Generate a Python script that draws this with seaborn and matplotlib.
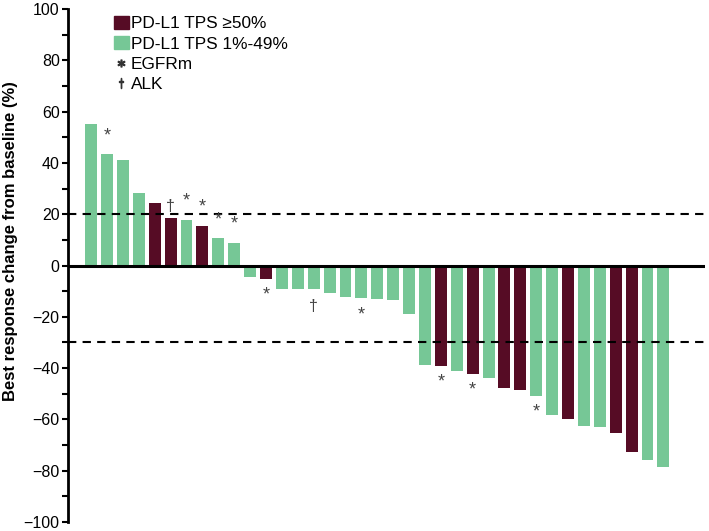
"""
Waterfall plot: best response change from baseline by PD-L1 TPS group.
"""
import numpy as np, pandas as pd
import matplotlib
matplotlib.use("Agg")
import matplotlib.pyplot as plt
from matplotlib.patches import Patch
from matplotlib.lines import Line2D
import seaborn as sns

# ---------- data ----------
change = [55.0, 43.3, 41.0, 28.1, 24.4, 18.5, 17.7, 15.4, 10.6, 8.9,
          -4.4, -5.3, -9.0, -9.0, -9.0, -10.6, -12.4, -12.8, -13.2, -13.6,
          -18.9, -38.8, -39.2, -41.0, -42.4, -43.9, -47.8, -48.5, -50.7, -58.3,
          -59.8, -62.4, -62.8, -65.4, -72.7, -75.7, -78.7]
# H = TPS >=50%, L = TPS 1%-49%
tps = ["L", "L", "L", "L", "H", "H", "L", "H", "L", "L",
       "L", "H", "L", "L", "L", "L", "L", "L", "L", "L",
       "L", "L", "H", "L", "H", "L", "H", "H", "L", "L",
       "H", "L", "L", "H", "H", "L", "L"]
# mutation markers: "*" = EGFRm, "†" = ALK
mutation = ["", "*", "", "", "", "†", "*", "*", "*", "*",
            "", "*", "", "", "†", "", "", "*", "", "",
            "", "", "*", "", "*", "", "", "", "*", "",
            "", "", "", "", "", "", ""]
thresholds = [20, -30]
group_labels = {"H": "PD-L1 TPS \u226550%", "L": "PD-L1 TPS 1%-49%"}
colors = {"H": "#560c25", "L": "#76c796"}

df = pd.DataFrame({"patient": np.arange(len(change)), "change": change,
                   "tps": tps, "mut": mutation})

plt.rcParams["font.family"] = ["Liberation Sans", "DejaVu Sans"]

fig = plt.figure(figsize=(7.09, 5.31), dpi=100)
ax = fig.add_axes([0.096, 0.017, 0.898, 0.966])

sns.barplot(data=df, x="patient", y="change", hue="tps", palette=colors,
            dodge=False, width=0.75, saturation=1, legend=False, ax=ax)

ax.axhline(0, color="black", lw=2.2, zorder=3)
for t in thresholds:
    ax.axhline(t, color="black", lw=1.5, ls=(0, (4, 3)), zorder=3)

# mutation markers above / below the bars
for i, r in df.iterrows():
    if not r.mut:
        continue
    if r.change > 0:
        y = r.change + (4 if r.mut == "*" else 1.5)
        va = "bottom"
    else:
        y = r.change - (3 if r.mut == "*" else 4)
        va = "top"
    ax.text(i, y, r.mut, ha="center", va=va, fontsize=13 if r.mut == "*" else 11.5,
            color="#444444")

ax.set_xlim(-1.45, 38.6)
ax.set_ylim(-100, 100)
ax.set_yticks(np.arange(-100, 101, 20))
ax.set_yticks(np.arange(-90, 100, 20), minor=True)
ax.set_yticklabels([str(v).replace("-", "\u2212") for v in range(-100, 101, 20)])
ax.tick_params(axis="y", which="major", length=4, width=1.5, labelsize=11.5, pad=2)
ax.tick_params(axis="y", which="minor", length=4, width=1.5)
ax.set_xticks([])
ax.set_xlabel("")
ax.set_ylabel("Best response change from baseline (%)", fontsize=12,
              fontweight="bold")
ax.yaxis.set_label_coords(-0.078, 0.548)
for s in ["top", "right", "bottom"]:
    ax.spines[s].set_visible(False)
ax.spines["left"].set_linewidth(2)

handles = [Patch(color=colors["H"]), Patch(color=colors["L"]),
           Line2D([], [], ls="none", marker="$*$", color="#333333", markersize=5),
           Line2D([], [], ls="none", marker="$\u2020$", color="#333333", markersize=6.5)]
labels = [group_labels["H"], group_labels["L"], "EGFRm", "ALK"]
ax.legend(handles, labels, loc="upper left", bbox_to_anchor=(0.066, 0.994),
          frameon=False, fontsize=12.4, handlelength=0.87, handleheight=0.8,
          handletextpad=0.12, labelspacing=0.28, borderaxespad=0,
          borderpad=0.2)

fig.savefig("out.png", dpi=100)
